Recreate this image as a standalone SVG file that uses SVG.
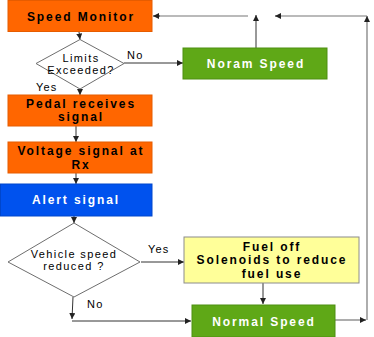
<svg xmlns="http://www.w3.org/2000/svg" width="374" height="337" viewBox="0 0 374 337">
<defs>
<marker id="ah" markerUnits="userSpaceOnUse" markerWidth="7" markerHeight="6" refX="6" refY="3" orient="auto">
<path d="M0,0 L6,3 L0,6 z" fill="#222"/>
</marker>
<style>
.orange{fill:#FF6600;stroke:#E65C00;stroke-width:1}
.green{fill:#5FA817;stroke:#4E8F12;stroke-width:1}
.blue{fill:#0052EE;stroke:#0046CC;stroke-width:1}
.yellow{fill:#FFFF99;stroke:#8C8C8C;stroke-width:1}
.dia{fill:#FFFFFF;stroke:#6E6E6E;stroke-width:1}
.bt{font-family:"Liberation Sans",Arial,sans-serif;font-weight:bold;font-size:12px;letter-spacing:1.9px;text-anchor:middle;fill:#000}
.wt{fill:#FFFFFF}
.dt{font-family:"Liberation Sans",Arial,sans-serif;font-size:11px;letter-spacing:1.4px;text-anchor:middle;fill:#000}
.lbl{font-family:"Liberation Sans",Arial,sans-serif;font-size:11px;letter-spacing:1.2px;fill:#000}
.c{fill:none;stroke:#333;stroke-width:1;marker-end:url(#ah)}
.cg{fill:none;stroke:#777;stroke-width:1.2}
</style>
</defs>
<g id="connectors">
<path class="c" d="M79,32 L80,39.5"/>
<path class="c" d="M124,63 L183,63"/>
<path class="c" d="M80,89 L80,95"/>
<path class="c" d="M76,126 L76,142"/>
<path class="c" d="M76,173 L76,184"/>
<path class="c" d="M74,216 L74,223"/>
<path class="c" d="M141,262 L184,262"/>
<path class="c" d="M73,297 L72,319"/>
<path class="c" d="M72,321 L191,321"/>
<path class="c" d="M263,283 L263,304"/>
<path class="cg" d="M335,320 L362,320"/>
<path class="c" d="M360,320 L366,320"/>
<path class="cg" d="M367,320 L367,20"/>
<path class="c" d="M367,22 L367,16"/>
<path class="cg" d="M367,16 L279,16"/>
<path class="c" d="M281,16 L275,16"/>
<path class="c" d="M256,48 L256,15"/>
<path class="cg" d="M248,16 L158,16"/>
<path class="c" d="M160,16 L153,16"/>
<text class="lbl" x="127" y="59">No</text>
<text class="lbl" x="36" y="91">Yes</text>
<text class="lbl" x="148" y="253">Yes</text>
<text class="lbl" x="87" y="308">No</text>
</g>
<g id="speed-monitor">
<rect class="orange" x="8" y="0.5" width="144" height="31"/>
<text class="bt" x="81" y="20.5">Speed Monitor</text>
</g>
<g id="limits-exceeded">
<polygon class="dia" points="80,39.5 124,63.5 80,89 36,63.5"/>
<text class="dt" x="81" y="62">Limits</text>
<text class="dt" x="81" y="74">Exceeded?</text>
</g>
<g id="noram-speed">
<rect class="green" x="183" y="48" width="144" height="31"/>
<text class="bt wt" x="256" y="68">Noram Speed</text>
</g>
<g id="pedal">
<rect class="orange" x="8" y="95" width="144" height="31"/>
<text class="bt" x="81" y="107.5">Pedal receives</text>
<text class="bt" x="81" y="121">signal</text>
</g>
<g id="voltage">
<rect class="orange" x="8" y="142" width="144" height="31"/>
<text class="bt" x="81" y="155">Voltage signal at</text>
<text class="bt" x="81" y="168.5">Rx</text>
</g>
<g id="alert">
<rect class="blue" x="0.5" y="184" width="151.5" height="32"/>
<text class="bt wt" x="76" y="204">Alert signal</text>
</g>
<g id="vehicle-speed">
<polygon class="dia" points="74,223 140,262 74,297 8,262"/>
<text class="dt" x="74" y="258">Vehicle speed</text>
<text class="dt" x="74" y="270">reduced ?</text>
</g>
<g id="fuel-off">
<rect class="yellow" x="184" y="237" width="175" height="46"/>
<text class="bt" x="272" y="250.5">Fuel off</text>
<text class="bt" x="272" y="264">Solenoids to reduce</text>
<text class="bt" x="272" y="277.5">fuel use</text>
</g>
<g id="normal-speed">
<rect class="green" x="192" y="305" width="143" height="32"/>
<text class="bt wt" x="264" y="325.5">Normal Speed</text>
</g>
</svg>
